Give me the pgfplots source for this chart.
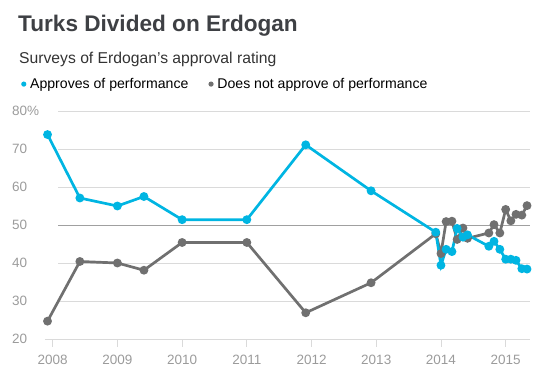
\documentclass[border=0pt]{standalone}
\usepackage{pgfplots}
\pgfplotsset{compat=1.18}
\usepackage{fontspec}
\setmainfont{Liberation Sans}
\definecolor{cblue}{RGB}{0,181,226}
\definecolor{cgray}{RGB}{112,112,112}
\definecolor{ctitle}{RGB}{62,64,68}
\definecolor{ctick}{RGB}{155,155,155}
\definecolor{cgrid}{RGB}{218,218,218}
\definecolor{cmid}{RGB}{160,160,160}
\pgfplotstableread{
x y
2007.92 73.8
2008.42 57.1
2009.00 55.0
2009.41 57.5
2010.00 51.4
2011.00 51.4
2011.91 71.1
2012.92 59.0
2013.92 48.1
2014.00 39.4
2014.08 43.6
2014.17 43.0
2014.25 49.1
2014.34 46.8
2014.41 47.4
2014.74 44.4
2014.82 45.7
2014.91 43.6
2015.00 41.0
2015.08 41.0
2015.16 40.7
2015.25 38.5
2015.33 38.4
}\approve
\pgfplotstableread{
x y
2007.92 24.7
2008.42 40.4
2009.00 40.0
2009.41 38.1
2010.00 45.4
2011.00 45.4
2011.91 26.9
2012.92 34.8
2013.92 47.7
2014.00 42.5
2014.08 50.9
2014.17 51.0
2014.25 46.2
2014.34 49.2
2014.41 46.5
2014.74 47.9
2014.82 50.1
2014.91 47.9
2015.00 54.1
2015.08 51.1
2015.16 52.8
2015.25 52.6
2015.33 55.1
}\disapprove
\begin{document}
\begin{tikzpicture}
\path[use as bounding box] (0pt,0pt) rectangle (550pt,380pt);
\node[anchor=base west,inner sep=0pt,text=ctitle,font=\fontsize{22.6}{22.6}\selectfont\bfseries] at (18pt,348.3pt) {Turks Divided on Erdogan};
\node[anchor=base west,inner sep=0pt,text=black!80,font=\fontsize{15.7}{15.7}\selectfont] at (19pt,316pt) {Surveys of Erdogan’s approval rating};
\begin{axis}[
  at={(45pt,41pt)}, anchor=south west,
  scale only axis, width=485pt, height=228pt,
  xmin=2007.881, xmax=2015.376, ymin=20, ymax=80,
  clip=false,
  axis line style={draw=none},
  ytick={20,30,40,50,60,70,80},
  yticklabels={20,30,40,50,60,70,80\%},
  xtick={2008,2009,2010,2011,2012,2013,2014,2015},
  xticklabels={2008,2009,2010,2011,2012,2013,2014,2015},
  xtick pos=bottom, ytick pos=left,
  tick align=outside,
  major tick length=8pt,
  xtick style={cgrid, line width=0.9pt},
  ytick style={draw=none},
  /pgf/number format/assume math mode=true,
  tick label style={text=ctick, font=\fontsize{13.5}{13.5}\selectfont, inner sep=0pt},
  yticklabel style={anchor=west, xshift=-25pt},
  xticklabel style={anchor=base, yshift=-18pt},
  reverse legend,
  legend style={at={(axis description cs:-0.0495,1.118)}, anchor=west, draw=none, fill=none,
    legend columns=2, inner sep=0pt, font=\fontsize{14.1}{14.1}\selectfont,
    /tikz/every even column/.append style={column sep=18pt}},
  legend image code/.code={\fill[#1,draw=none] (0pt,0pt) circle (2.6pt); \path (3pt,0pt);},
]
\foreach \g in {30,40,60,70,80} {
  \edef\tmp{\noexpand\draw[cgrid, line width=0.9pt] (axis cs:2008.082,\g) -- (axis cs:2015.376,\g);}\tmp
}
\draw[cmid, line width=0.9pt] (axis cs:2008.082,50) -- (axis cs:2015.376,50);
\draw[cgrid, line width=0.9pt] (axis cs:2007.881,20) -- (axis cs:2015.376,20);
\addplot[cgray, line width=2.7pt, mark=*, mark size=3pt] table {\disapprove};
\addlegendentry{Does not approve of performance}
\addplot[cblue, line width=2.7pt, mark=*, mark size=3pt] table {\approve};
\addlegendentry{Approves of performance}
\end{axis}
\end{tikzpicture}
\end{document}
